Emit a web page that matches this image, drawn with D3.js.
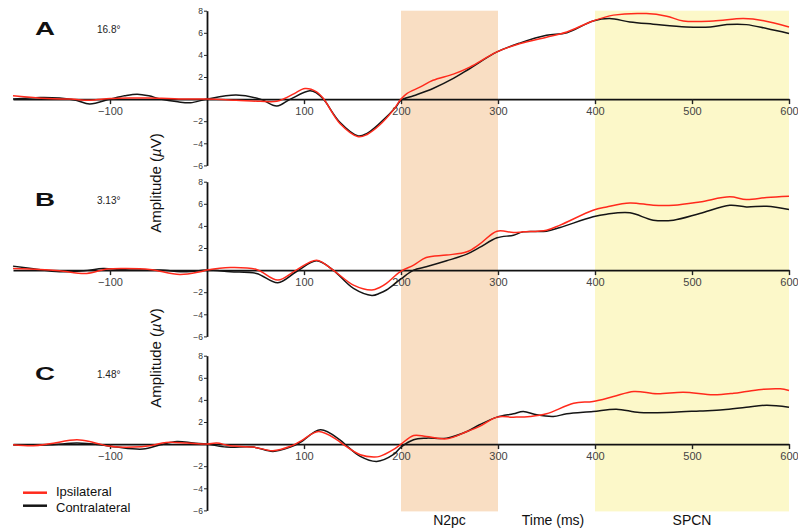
<!DOCTYPE html>
<html>
<head>
<meta charset="utf-8">
<script src="https://cdn.jsdelivr.net/npm/d3@7"></script>
<style>
  body { margin: 0; background: #fff; }
  text { font-family: "Liberation Sans", Arial, sans-serif; }
</style>
</head>
<body>
<svg id="chart" width="798" height="531"></svg>
<script>
// Data: [time (ms), amplitude (uV)]
var panelLetters = ['A', 'B', 'C'];
var panelAngles = ['16.8\u00b0', '3.13\u00b0', '1.48\u00b0'];
var xTickValues = [-100, 100, 200, 300, 400, 500, 600];
var yTickValues = [8, 6, 4, 2, -2, -4, -6];
var windows = [
  { name: 'N2pc', from: 200, to: 300, color: '#f9dec3' },
  { name: 'SPCN', from: 400, to: 600, color: '#fcf8c9' }
];

var ipsiA = [[-200,0.3],[-165,0.05],[-140,0],[-121,-0.1],[-100,0.05],[-80,0.1],[-60,0.1],[-40,0.05],[-20,0],[0,0],[30,-0.1],[55,-0.2],[72,-0.2],[80,0.05],[90,0.5],[101,0.96],[113,0.66],[120,0.05],[137,-2.2],[156,-3.4],[165,-3.2],[178,-2.35],[192,-1.0],[200,0],[206,0.5],[220,1.1],[233,1.7],[254,2.26],[271,2.9],[299,4.27],[323,5.03],[350,5.6],[371,6.08],[398,7.07],[419,7.6],[453,7.74],[474,7.5],[491,7.07],[522,7.07],[553,7.29],[574,7.1],[600,6.53]];
var contraA = [[-200,0],[-172,0.15],[-152,0.1],[-135,-0.1],[-121,-0.45],[-100,0],[-85,0.3],[-72,0.45],[-60,0.3],[-48,0],[-30,-0.25],[-17,-0.33],[0,0],[30,0.36],[55,0],[72,-0.63],[86,0],[106,0.75],[113,0.55],[120,0],[137,-2.1],[156,-3.34],[165,-3.1],[178,-2.2],[195,-0.7],[200,-0.1],[213,0.3],[233,0.96],[254,1.87],[271,2.77],[299,4.27],[323,5.09],[350,5.78],[371,6.0],[398,7.07],[415,7.29],[436,6.98],[460,6.78],[494,6.53],[519,6.53],[536,6.74],[556,6.74],[577,6.38],[600,5.93]];

var ipsiB = [[-200,0.15],[-172,0.06],[-152,-0.06],[-124,-0.3],[-103,0.1],[-83,0.15],[-59,0.06],[-28,-0.4],[-7,-0.15],[0,0],[24,0.24],[51,0.06],[73,-0.9],[92,0],[113,0.9],[130,0],[151,-1.36],[170,-1.8],[178,-1.57],[185,-1.2],[199,-0.15],[213,0.45],[226,1.14],[247,1.36],[268,1.66],[281,2.35],[299,3.52],[316,3.4],[326,3.46],[350,3.61],[364,4.07],[398,5.42],[412,5.72],[436,6.08],[460,5.87],[481,5.87],[508,6.17],[539,6.63],[556,6.39],[577,6.57],[600,6.69]];
var contraB = [[-200,0.36],[-179,0.12],[-152,-0.15],[-127,-0.06],[-107,0.15],[-90,0.06],[-70,0],[-48,0],[-21,-0.15],[0,0],[24,-0.15],[51,-0.3],[73,-1.14],[92,-0.15],[113,0.84],[130,0],[151,-1.66],[170,-2.29],[178,-2.1],[185,-1.8],[200,-0.8],[213,0],[226,0.3],[247,0.84],[268,1.45],[281,2.05],[299,2.92],[316,3.16],[326,3.46],[350,3.52],[364,3.86],[398,4.82],[412,5.06],[436,5.18],[460,4.52],[481,4.52],[508,5.12],[539,5.87],[556,5.72],[577,5.78],[600,5.48]];

var ipsiC = [[-200,-0.06],[-179,-0.15],[-162,0.03],[-134,0.39],[-117,0.15],[-100,-0.2],[-76,-0.27],[-59,-0.15],[-42,0.15],[-21,0.09],[0,0],[10,0.09],[24,-0.15],[48,-0.27],[68,-0.6],[86,-0.2],[96,0.24],[115,1.14],[134,0.39],[140,0],[158,-0.96],[172,-1.17],[178,-1.11],[192,-0.5],[200,0],[213,0.78],[226,0.69],[247,0.48],[268,1.14],[281,1.6],[299,2.44],[316,2.44],[333,2.5],[350,2.74],[378,3.7],[398,3.86],[419,4.3],[440,4.76],[464,4.55],[491,4.7],[522,4.46],[543,4.6],[556,4.76],[574,4.97],[591,5.0],[600,4.85]];
var contraC = [[-200,-0.06],[-162,-0.06],[-134,0.09],[-110,-0.06],[-93,-0.27],[-66,-0.45],[-48,-0.06],[-31,0.24],[-14,0.09],[0,0],[20,-0.27],[48,-0.27],[68,-0.66],[86,-0.27],[96,0.15],[117,1.3],[137,0.39],[144,-0.15],[158,-1.11],[175,-1.57],[192,-0.96],[200,-0.27],[213,0.39],[226,0.54],[247,0.54],[268,1.14],[281,1.75],[299,2.44],[316,2.74],[326,2.95],[340,2.65],[357,2.5],[371,2.74],[398,2.95],[422,3.16],[446,2.86],[481,2.89],[508,3.0],[532,3.1],[556,3.34],[577,3.52],[600,3.34]];

var ipsiSeries = [ipsiA, ipsiB, ipsiC];
var contraSeries = [contraA, contraB, contraC];

// Layout
var panelTops = [10.7, 181.7, 355.7];
var panelHeight = 154.7;
var red = '#ff2a1c';
var black = '#151515';

var svg = d3.select('#chart');

var x = d3.scaleLinear()
    .domain([-200, 600])
    .range([13, 789]);

function yScale(i) {
  return d3.scaleLinear()
    .domain([-6, 8])
    .range([panelTops[i] + panelHeight, panelTops[i]]);
}

// Shaded time windows spanning all three panels
var shadeTop = panelTops[0];
var shadeBottom = panelTops[2] + panelHeight + 1;
svg.selectAll('rect.window')
  .data(windows)
  .enter().append('rect')
    .attr('class', 'window')
    .attr('x', function (d) { return x(d.from); })
    .attr('width', function (d) { return x(d.to) - x(d.from); })
    .attr('y', shadeTop)
    .attr('height', shadeBottom - shadeTop)
    .attr('fill', function (d) { return d.color; });

panelLetters.forEach(function (letter, i) {
  var y = yScale(i);
  var g = svg.append('g');

  // zero line with time ticks
  var xAxis = d3.axisBottom(x)
      .tickValues(xTickValues)
      .tickSize(5)
      .tickSizeOuter(0);
  var gx = g.append('g')
    .attr('transform', 'translate(0,' + y(0) + ')')
    .call(xAxis);
  gx.select('.domain').attr('stroke', '#111').attr('stroke-width', 1.6);
  gx.selectAll('.tick line').attr('stroke', '#222').attr('stroke-width', 1.4);
  gx.selectAll('.tick text')
    .attr('y', 8)
    .style('font-size', '11px')
    .style('font-family', '"Liberation Sans", Arial, sans-serif')
    .attr('fill', '#444')
    .text(function (d) { return d < 0 ? '\u2212' + Math.abs(d) : d; });

  // amplitude axis at t = 0
  var yAxis = d3.axisLeft(y)
      .tickValues(yTickValues)
      .tickSize(3)
      .tickSizeOuter(0);
  var gy = g.append('g')
    .attr('transform', 'translate(' + x(0) + ',0)')
    .call(yAxis);
  gy.select('.domain').attr('stroke', '#111').attr('stroke-width', 1.8);
  gy.selectAll('.tick line').attr('stroke', '#222');
  gy.selectAll('.tick text')
    .attr('x', -4)
    .style('font-size', '8.5px')
    .style('font-family', '"Liberation Sans", Arial, sans-serif')
    .attr('fill', '#333')
    .text(function (d) { return d < 0 ? '\u2212' + Math.abs(d) : d; });

  var line = d3.line()
    .x(function (d) { return x(d[0]); })
    .y(function (d) { return y(d[1]); })
    .curve(d3.curveCatmullRom.alpha(0.5));

  g.append('path')
    .datum(contraSeries[i])
    .attr('fill', 'none')
    .attr('stroke', black)
    .attr('stroke-width', 1.5)
    .attr('d', line);

  g.append('path')
    .datum(ipsiSeries[i])
    .attr('fill', 'none')
    .attr('stroke', red)
    .attr('stroke-width', 1.5)
    .attr('d', line);

  // panel letter and eccentricity
  g.append('text')
    .attr('x', 35)
    .attr('y', [35, 206, 380][i])
    .attr('textLength', 20)
    .attr('lengthAdjust', 'spacingAndGlyphs')
    .style('font-size', '18px')
    .style('font-weight', 'bold')
    .attr('fill', '#111')
    .text(letter);

  g.append('text')
    .attr('x', 97)
    .attr('y', [33, 204, 378][i])
    .style('font-size', '10px')
    .attr('fill', '#222')
    .text(panelAngles[i]);
});

// Amplitude labels (two of them, as in the figure)
[183, 358].forEach(function (cy) {
  var t = svg.append('text')
    .attr('transform', 'translate(161,' + cy + ') rotate(-90)')
    .attr('text-anchor', 'middle')
    .style('font-size', '15px')
    .attr('fill', '#111');
  t.append('tspan').text('Amplitude (');
  t.append('tspan').style('font-style', 'italic').text('\u00b5');
  t.append('tspan').text('V)');
});

// Bottom labels
svg.append('text')
  .attr('x', x(250)).attr('y', 525)
  .attr('text-anchor', 'middle')
  .style('font-size', '14px')
  .attr('fill', '#111')
  .text('N2pc');

svg.append('text')
  .attr('x', 553).attr('y', 525)
  .attr('text-anchor', 'middle')
  .style('font-size', '14px')
  .attr('fill', '#111')
  .text('Time (ms)');

svg.append('text')
  .attr('x', x(500)).attr('y', 525)
  .attr('text-anchor', 'middle')
  .style('font-size', '14px')
  .attr('fill', '#111')
  .text('SPCN');

// Legend
var legend = [
  { label: 'Ipsilateral', color: red, y: 492.7, ty: 495.5 },
  { label: 'Contralateral', color: black, y: 505.7, ty: 511.5 }
];
legend.forEach(function (d) {
  svg.append('line')
    .attr('x1', 23).attr('x2', 47)
    .attr('y1', d.y).attr('y2', d.y)
    .attr('stroke', d.color)
    .attr('stroke-width', 2.5);
  svg.append('text')
    .attr('x', 56).attr('y', d.ty)
    .style('font-size', '13px')
    .attr('fill', '#111')
    .text(d.label);
});
</script>
</body>
</html>
